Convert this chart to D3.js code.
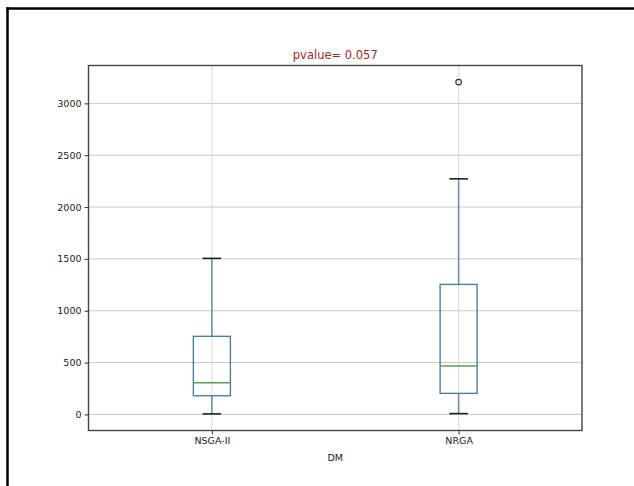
<!DOCTYPE html>
<html>
<head>
<meta charset="utf-8">
<script src="https://cdn.jsdelivr.net/npm/d3@7"></script>
<style>
  html, body { margin: 0; padding: 0; background: #fff; }
  svg { display: block; }
</style>
</head>
<body>
<svg id="chart" width="634" height="486"></svg>
<script>
// Box statistics per algorithm
const categories = ["NSGA-II", "NRGA"];
const whiskerLow  = [5, 8];
const quartile1   = [180, 203];
const medians     = [305, 467];
const quartile3   = [753, 1254];
const whiskerHigh = [1505, 2272];
const outliers    = [[], [3205]];
const yTicks      = [0, 500, 1000, 1500, 2000, 2500, 3000];
const titleText   = "pvalue= 0.057";
const xLabel      = "DM";

const svg = d3.select("#chart");
const W = 634, H = 486;
const m = { left: 88.5, right: 582, top: 65.5, bottom: 430.5 };

// page frame (top and left edges)
svg.append("line").attr("x1", 6.25).attr("x2", W).attr("y1", 8.5).attr("y2", 8.5)
  .attr("stroke", "#000").attr("stroke-width", 2.5);
svg.append("line").attr("x1", 7.5).attr("x2", 7.5).attr("y1", 7.25).attr("y2", H)
  .attr("stroke", "#000").attr("stroke-width", 2.5);

// y domain with 5% padding around the data extent
const allVals = whiskerLow.concat(whiskerHigh, outliers.flat());
const lo = d3.min(allVals), hi = d3.max(allVals);
const pad = (hi - lo) * 0.05;
const y = d3.scaleLinear().domain([lo - pad, hi + pad]).range([m.bottom, m.top]);
const x = d3.scaleLinear().domain([0.5, categories.length + 0.5]).range([m.left, m.right]);
const pos = categories.map((c, i) => i + 1);
const boxW = x(1.15) - x(1);

const g = svg.append("g");

// grid lines
g.selectAll(".hgrid").data(yTicks).join("line")
  .attr("x1", m.left).attr("x2", m.right)
  .attr("y1", d => y(d)).attr("y2", d => y(d))
  .attr("stroke", "#c8c8c8").attr("stroke-width", 1);
g.selectAll(".vgrid").data(pos).join("line")
  .attr("x1", d => x(d)).attr("x2", d => x(d))
  .attr("y1", m.top).attr("y2", m.bottom)
  .attr("stroke", "#d8d8d8").attr("stroke-width", 1);

// y axis
const yAxis = d3.axisLeft(y).tickValues(yTicks).tickFormat(d3.format("d")).tickSize(4).tickPadding(3);
const ya = svg.append("g").attr("transform", `translate(${m.left},0)`).call(yAxis);
ya.select(".domain").remove();
ya.selectAll("line").attr("stroke", "#333");
ya.selectAll("text").attr("font-family", "DejaVu Sans").attr("font-size", 9.5).attr("fill", "#222");

// x axis
const xAxis = d3.axisBottom(x).tickValues(pos).tickFormat((d, i) => categories[i]).tickSize(4).tickPadding(3);
const xa = svg.append("g").attr("transform", `translate(0,${m.bottom})`).call(xAxis);
xa.select(".domain").remove();
xa.selectAll("line").attr("stroke", "#333");
xa.selectAll("text").attr("font-family", "DejaVu Sans").attr("font-size", 9.5).attr("fill", "#222");

// boxes
const boxColor = "#4f7f9e";
const boxes = g.selectAll(".box").data(categories).join("g");
boxes.append("line")
  .attr("x1", (d, i) => x(pos[i])).attr("x2", (d, i) => x(pos[i]))
  .attr("y1", (d, i) => y(whiskerLow[i])).attr("y2", (d, i) => y(quartile1[i]))
  .attr("stroke", boxColor).attr("stroke-width", 1.6).attr("opacity", 0.8);
boxes.append("line")
  .attr("x1", (d, i) => x(pos[i])).attr("x2", (d, i) => x(pos[i]))
  .attr("y1", (d, i) => y(quartile3[i])).attr("y2", (d, i) => y(whiskerHigh[i]))
  .attr("stroke", boxColor).attr("stroke-width", 1.6).attr("opacity", 0.8);
boxes.append("rect")
  .attr("x", (d, i) => x(pos[i]) - boxW / 2).attr("width", boxW)
  .attr("y", (d, i) => y(quartile3[i]))
  .attr("height", (d, i) => y(quartile1[i]) - y(quartile3[i]))
  .attr("fill", "none").attr("stroke", boxColor).attr("stroke-width", 1.4);
boxes.append("line")
  .attr("x1", (d, i) => x(pos[i]) - boxW / 2).attr("x2", (d, i) => x(pos[i]) + boxW / 2)
  .attr("y1", (d, i) => y(medians[i])).attr("y2", (d, i) => y(medians[i]))
  .attr("stroke", "#5c9c56").attr("stroke-width", 1.4);
[whiskerLow, whiskerHigh].forEach(arr => {
  boxes.append("line")
    .attr("x1", (d, i) => x(pos[i]) - boxW / 4).attr("x2", (d, i) => x(pos[i]) + boxW / 4)
    .attr("y1", (d, i) => y(arr[i])).attr("y2", (d, i) => y(arr[i]))
    .attr("stroke", "#222").attr("stroke-width", 1.6);
});
boxes.each(function(d, i) {
  d3.select(this).selectAll("circle").data(outliers[i]).join("circle")
    .attr("cx", x(pos[i])).attr("cy", v => y(v)).attr("r", 2.8)
    .attr("fill", "none").attr("stroke", "#333").attr("stroke-width", 1.2);
});

// plot frame
svg.append("rect").attr("x", m.left).attr("y", m.top)
  .attr("width", m.right - m.left).attr("height", m.bottom - m.top)
  .attr("fill", "none").attr("stroke", "#444").attr("stroke-width", 1.4);

// title and axis label
svg.append("text").attr("x", (m.left + m.right) / 2).attr("y", 59)
  .attr("text-anchor", "middle").attr("font-family", "DejaVu Sans").attr("font-size", 11.5)
  .attr("fill", "#9e2a2a").text(titleText);
svg.append("text").attr("x", (m.left + m.right) / 2).attr("y", 461)
  .attr("text-anchor", "middle").attr("font-family", "DejaVu Sans").attr("font-size", 9.5)
  .attr("fill", "#222").text(xLabel);
</script>
</body>
</html>
